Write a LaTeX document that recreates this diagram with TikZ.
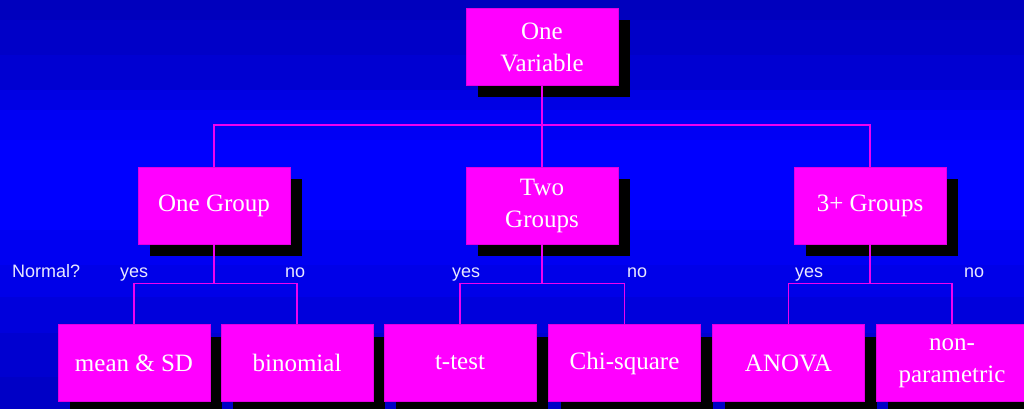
\documentclass[tikz,border=0pt]{standalone}
\usepackage{fontspec}
\setmainfont{Liberation Serif}
\newfontfamily\labelfont{Liberation Sans}
\usetikzlibrary{shadows}
\definecolor{boxpink}{RGB}{255,0,255}
\definecolor{boxedge}{RGB}{225,0,225}
\definecolor{linkpink}{RGB}{240,0,240}
\definecolor{labelwhite}{RGB}{232,232,255}
\tikzstyle{testbox} = [draw=boxedge, line width=0.8pt, fill=boxpink, minimum width=152pt, minimum height=77pt, inner sep=0pt, align=center, text=white, font=\fontsize{25}{32}\selectfont, drop shadow={shadow xshift=12pt, shadow yshift=-12pt, fill=black, opacity=1}]
\tikzstyle{link} = [linkpink, line width=1.2pt]
\tikzstyle{answer} = [text=labelwhite, font=\labelfont\fontsize{18}{20}\selectfont, anchor=base west, inner sep=0pt]

\begin{document}
\begin{tikzpicture}[x=1pt,y=-1pt]
\useasboundingbox (0,0) rectangle (1024,409);

%background in blue bands
\foreach \ya/\yb/\c in {0/20/190, 20/55/200, 55/90/210, 90/110/228, 110/140/244, 140/230/255, 230/265/242, 265/297/232, 297/333/220, 333/377/208, 377/409/198}
{
\definecolor{bandc}{RGB}{0,0,\c}
\fill[bandc] (0,\ya) rectangle (1024,\yb);
}

\node[testbox] (var) at (542,47) {One\\Variable};

\node[testbox] (one) at (214,205.5) {One Group};
\node[testbox] (two) at (542,205.5) {Two\\Groups};
\node[testbox] (three) at (870,205.5) {3+ Groups};

\node[testbox] (mean) at (134,363) {mean \& SD};
\node[testbox] (binom) at (297,363) {binomial};
\node[testbox] (ttest) at (460,363) {t-test};
\node[testbox] (chi) at (624.5,363) {Chi-square};
\node[testbox] (anova) at (788.5,363) {ANOVA};
\node[testbox] (nonpar) at (952,363) {non-\\parametric};

\draw[link] (var.south) -- ++(0,39) -| (one.north);
\draw[link] (var.south) -- ++(0,39) -| (three.north);
\draw[link] (var.south) -- (two.north);

\foreach \p/\l/\r in {one/mean/binom, two/ttest/chi, three/anova/nonpar}
{
\draw[link] (\p.south) -- ++(0,39) -| (\l.north);
\draw[link] (\p.south) -- ++(0,39) -| (\r.north);
}

%answers to the normality question
\node[answer] (normal) at (12,277) {Normal?};
\node[answer] (yesone) at (120,277) {yes};
\node[answer] (noone) at (285,277) {no};
\node[answer] (yestwo) at (452,277) {yes};
\node[answer] (notwo) at (627,277) {no};
\node[answer] (yesthree) at (795,277) {yes};
\node[answer] (nothree) at (964,277) {no};

\end{tikzpicture}
\end{document}
